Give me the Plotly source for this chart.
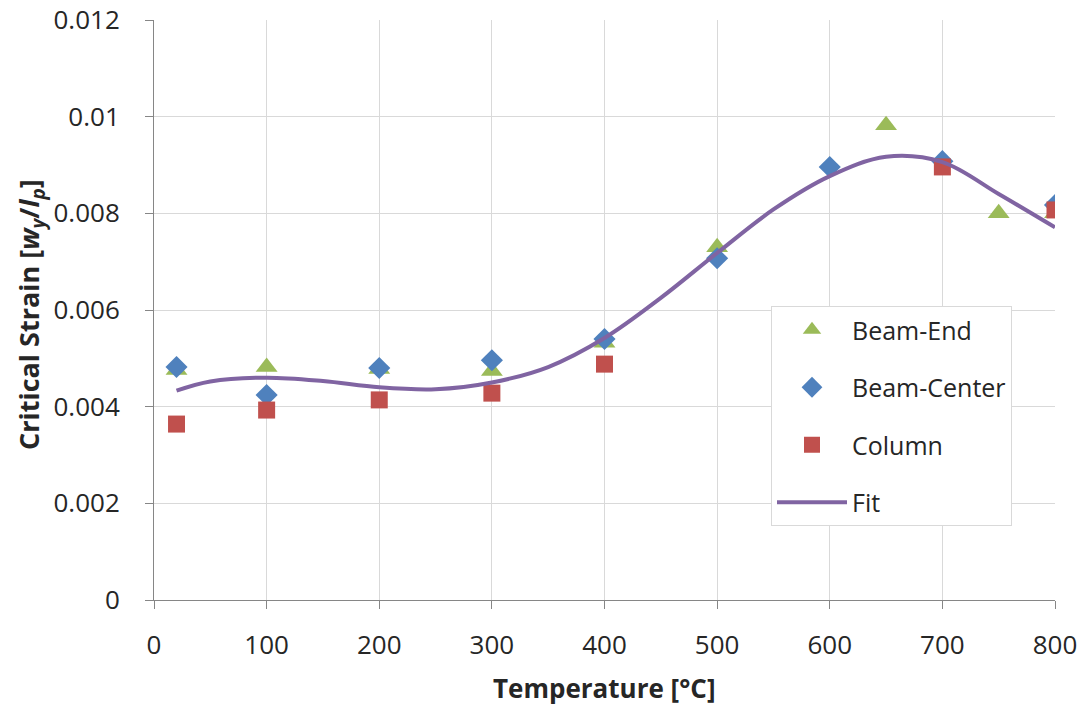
import plotly.graph_objects as go

# Data
temps = [20, 100, 200, 300, 400, 500, 650, 750, 800]
beam_end = [0.00476, 0.00482, 0.00478, 0.00474, 0.00532, 0.00730, 0.00982, 0.00800, 0.00800]

temps_center = [20, 100, 200, 300, 400, 500, 600, 700, 800]
beam_center = [0.00482, 0.00424, 0.00480, 0.00496, 0.00540, 0.00707, 0.00896, 0.00908, 0.00817]

temps_column = [20, 100, 200, 300, 400, 700, 800]
column = [0.00364, 0.00393, 0.00414, 0.00428, 0.00488, 0.00896, 0.00807]

fit_x = [20, 50, 100, 150, 200, 250, 300, 350, 400, 450, 500, 550, 600, 650, 700, 750, 800]
fit_y = [0.00433, 0.00452, 0.00460, 0.00453, 0.00440, 0.00436, 0.00450, 0.00482, 0.00542,
         0.00625, 0.00718, 0.00808, 0.00877, 0.00917, 0.00906, 0.00840, 0.00771]

x_ticks = [0, 100, 200, 300, 400, 500, 600, 700, 800]
y_ticks = [0, 0.002, 0.004, 0.006, 0.008, 0.01, 0.012]
y_tick_text = ["0", "0.002", "0.004", "0.006", "0.008", "0.01", "0.012"]

FONT = "'Open Sans', sans-serif"
TXT = "#262626"

fig = go.Figure()
fig.add_trace(go.Scatter(x=temps, y=beam_end, mode="markers", name="Beam-End",
                         legendgroup="a",
                         marker=dict(symbol="triangle-up", size=19, color="#9BBB59")))
fig.add_trace(go.Scatter(x=temps_center, y=beam_center, mode="markers", name="Beam-Center",
                         legendgroup="b",
                         marker=dict(symbol="diamond", size=17, color="#4F81BD")))
fig.add_trace(go.Scatter(x=temps_column, y=column, mode="markers", name="Column",
                         legendgroup="c",
                         marker=dict(symbol="square", size=17, color="#C0504D")))
fig.add_trace(go.Scatter(x=fit_x, y=fit_y, mode="lines", name="Fit",
                         legendgroup="d",
                         line=dict(color="#8064A2", width=4, shape="spline", smoothing=1.0)))

fig.update_layout(
    width=1088, height=710,
    margin=dict(l=154, r=33, t=20, b=110, autoexpand=False),
    paper_bgcolor="white", plot_bgcolor="white",
    font=dict(family=FONT, size=24, color=TXT),
    showlegend=True,
    legend=dict(x=(771 - 154) / 901, y=(600 - 306) / 580, xanchor="left", yanchor="top",
                bgcolor="white", bordercolor="#D9D9D9", borderwidth=1,
                font=dict(size=25, family=FONT, color=TXT),
                traceorder="grouped", tracegroupgap=22,
                itemwidth=70, entrywidth=258, entrywidthmode="pixels"),
    xaxis=dict(range=[0, 800], tickvals=x_ticks, ticktext=[str(v) for v in x_ticks],
               showgrid=True, gridcolor="#D9D9D9", gridwidth=1,
               showline=True, linecolor="#868686", linewidth=1,
               ticks="outside", ticklen=8, tickcolor="#868686",
               ticklabelstandoff=14, automargin=False,
               zeroline=False, tickfont=dict(size=26, color=TXT)),
    yaxis=dict(range=[0, 0.012], tickvals=y_ticks, ticktext=y_tick_text,
               showgrid=True, gridcolor="#D9D9D9", gridwidth=1,
               showline=True, linecolor="#868686", linewidth=1,
               ticks="outside", ticklen=8, tickcolor="#868686",
               ticklabelstandoff=20, automargin=False,
               zeroline=False, tickfont=dict(size=26, color=TXT)),
    annotations=[
        dict(text="<b>Temperature [°C]</b>", xref="paper", yref="paper",
             x=0.5, y=(600 - 688) / 580, xanchor="center", yanchor="middle",
             showarrow=False, font=dict(size=26, family=FONT, color=TXT)),
        dict(text="<b>Critical Strain [<i>w<sub>y</sub></i>/<i>l<sub>p</sub></i>]</b>",
             xref="paper", yref="paper", textangle=-90,
             x=(30 - 154) / 901, y=(600 - 315) / 580, xanchor="center", yanchor="middle",
             showarrow=False, font=dict(size=27, family=FONT, color=TXT)),
    ],
)

fig.write_html("out.html")
